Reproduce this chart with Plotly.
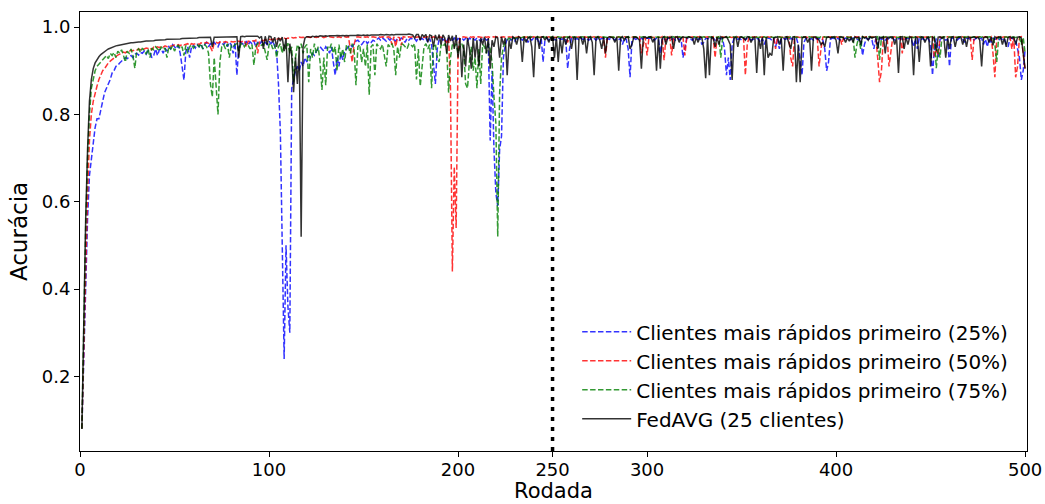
import plotly.graph_objects as go

# Accuracy per communication round (rounds 1..500)
rounds = list(range(1, 501))

fedavg_25 = [
    0.080, 0.330, 0.560, 0.720, 0.830, 0.880, 0.905, 0.918, 0.926, 0.932, 0.937, 0.941, 0.944, 0.947, 0.950, 0.952, 0.954, 0.956, 0.957, 0.958,
    0.959, 0.960, 0.961, 0.962, 0.962, 0.963, 0.964, 0.964, 0.965, 0.965, 0.966, 0.966, 0.967, 0.967, 0.968, 0.968, 0.968, 0.969, 0.969, 0.970,
    0.970, 0.970, 0.971, 0.971, 0.971, 0.972, 0.972, 0.972, 0.972, 0.973, 0.973, 0.973, 0.973, 0.974, 0.974, 0.974, 0.974, 0.975, 0.975, 0.975,
    0.975, 0.975, 0.976, 0.976, 0.976, 0.976, 0.976, 0.977, 0.977, 0.955, 0.977, 0.977, 0.977, 0.977, 0.978, 0.978, 0.977, 0.978, 0.978, 0.978,
    0.978, 0.978, 0.978, 0.930, 0.978, 0.979, 0.978, 0.979, 0.979, 0.978, 0.979, 0.979, 0.979, 0.979, 0.975, 0.979, 0.950, 0.979, 0.960, 0.979,
    0.978, 0.965, 0.977, 0.955, 0.976, 0.968, 0.977, 0.945, 0.975, 0.874, 0.962, 0.935, 0.851, 0.930, 0.870, 0.955, 0.520, 0.955, 0.975, 0.978,
    0.978, 0.977, 0.979, 0.978, 0.979, 0.978, 0.980, 0.979, 0.979, 0.980, 0.979, 0.980, 0.980, 0.979, 0.980, 0.981, 0.980, 0.980, 0.981, 0.980,
    0.981, 0.980, 0.981, 0.981, 0.980, 0.981, 0.982, 0.981, 0.981, 0.982, 0.981, 0.982, 0.981, 0.982, 0.982, 0.981, 0.982, 0.982, 0.983, 0.982,
    0.982, 0.983, 0.982, 0.982, 0.983, 0.982, 0.983, 0.983, 0.982, 0.983, 0.983, 0.982, 0.983, 0.984, 0.983, 0.982, 0.975, 0.983, 0.983, 0.970,
    0.983, 0.978, 0.983, 0.965, 0.982, 0.980, 0.955, 0.982, 0.970, 0.983, 0.960, 0.982, 0.975, 0.940, 0.982, 0.968, 0.980, 0.950, 0.982, 0.930,
    0.975, 0.885, 0.960, 0.910, 0.975, 0.950, 0.905, 0.975, 0.930, 0.970, 0.910, 0.975, 0.960, 0.978, 0.940, 0.975, 0.905, 0.970, 0.955, 0.978,
    0.975, 0.930, 0.978, 0.960, 0.975, 0.890, 0.970, 0.950, 0.978, 0.975, 0.960, 0.978, 0.975, 0.920, 0.978, 0.965, 0.975, 0.978, 0.955, 0.885,
    0.975, 0.978, 0.950, 0.977, 0.978, 0.970, 0.978, 0.965, 0.975, 0.978, 0.930, 0.977, 0.920, 0.975, 0.940, 0.978, 0.960, 0.975, 0.978, 0.950,
    0.975, 0.978, 0.879, 0.975, 0.977, 0.960, 0.978, 0.940, 0.975, 0.978, 0.965, 0.890, 0.975, 0.978, 0.970, 0.950, 0.977, 0.940, 0.975, 0.978,
    0.977, 0.975, 0.965, 0.978, 0.900, 0.975, 0.978, 0.970, 0.977, 0.978, 0.950, 0.960, 0.977, 0.978, 0.975, 0.970, 0.905, 0.977, 0.978, 0.975,
    0.977, 0.978, 0.965, 0.975, 0.900, 0.977, 0.905, 0.975, 0.978, 0.960, 0.977, 0.975, 0.978, 0.950, 0.977, 0.978, 0.965, 0.975, 0.978, 0.977,
    0.975, 0.978, 0.977, 0.975, 0.960, 0.977, 0.965, 0.978, 0.975, 0.950, 0.883, 0.975, 0.890, 0.978, 0.975, 0.955, 0.977, 0.960, 0.978, 0.975,
    0.977, 0.978, 0.970, 0.960, 0.879, 0.975, 0.978, 0.955, 0.977, 0.978, 0.975, 0.970, 0.978, 0.977, 0.965, 0.975, 0.978, 0.895, 0.975, 0.950,
    0.977, 0.890, 0.978, 0.930, 0.940, 0.935, 0.975, 0.977, 0.978, 0.960, 0.975, 0.900, 0.977, 0.978, 0.965, 0.950, 0.977, 0.978, 0.874, 0.960,
    0.874, 0.975, 0.978, 0.977, 0.965, 0.975, 0.900, 0.977, 0.978, 0.975, 0.970, 0.960, 0.965, 0.955, 0.977, 0.978, 0.975, 0.977, 0.978, 0.970,
    0.940, 0.977, 0.978, 0.975, 0.965, 0.975, 0.968, 0.977, 0.965, 0.978, 0.975, 0.977, 0.960, 0.978, 0.975, 0.977, 0.970, 0.978, 0.975, 0.977,
    0.978, 0.950, 0.977, 0.975, 0.978, 0.940, 0.977, 0.975, 0.978, 0.977, 0.960, 0.975, 0.895, 0.977, 0.978, 0.950, 0.977, 0.960, 0.978, 0.975,
    0.890, 0.977, 0.975, 0.920, 0.978, 0.977, 0.965, 0.975, 0.978, 0.910, 0.977, 0.975, 0.945, 0.977, 0.978, 0.975, 0.977, 0.930, 0.975, 0.950,
    0.977, 0.978, 0.955, 0.975, 0.977, 0.978, 0.960, 0.977, 0.955, 0.978, 0.975, 0.977, 0.978, 0.975, 0.977, 0.970, 0.910, 0.975, 0.978, 0.977,
    0.965, 0.977, 0.958, 0.978, 0.975, 0.977, 0.978, 0.960, 0.975, 0.955, 0.977, 0.978, 0.975, 0.977, 0.960, 0.977, 0.978, 0.975, 0.940, 0.905,
]

fastest_25 = [
    0.080, 0.240, 0.420, 0.560, 0.660, 0.700, 0.730, 0.770, 0.790, 0.790, 0.810, 0.830, 0.850, 0.860, 0.870, 0.880, 0.895, 0.900, 0.910, 0.912,
    0.918, 0.922, 0.925, 0.930, 0.928, 0.932, 0.935, 0.930, 0.938, 0.940, 0.936, 0.942, 0.940, 0.945, 0.938, 0.946, 0.944, 0.930, 0.935, 0.950,
    0.935, 0.948, 0.950, 0.940, 0.952, 0.945, 0.955, 0.950, 0.960, 0.955, 0.950, 0.958, 0.940, 0.910, 0.879, 0.945, 0.955, 0.930, 0.955, 0.958,
    0.952, 0.960, 0.955, 0.962, 0.950, 0.960, 0.965, 0.955, 0.962, 0.958, 0.965, 0.960, 0.955, 0.965, 0.962, 0.960, 0.966, 0.955, 0.965, 0.960,
    0.940, 0.965, 0.890, 0.955, 0.966, 0.962, 0.958, 0.968, 0.960, 0.966, 0.962, 0.968, 0.955, 0.966, 0.960, 0.968, 0.962, 0.965, 0.960, 0.968,
    0.962, 0.968, 0.955, 0.945, 0.870, 0.760, 0.500, 0.240, 0.500, 0.360, 0.300, 0.860, 0.880, 0.900, 0.910, 0.900, 0.920, 0.910, 0.930, 0.920,
    0.935, 0.930, 0.940, 0.935, 0.945, 0.950, 0.955, 0.950, 0.945, 0.955, 0.950, 0.940, 0.955, 0.920, 0.890, 0.930, 0.910, 0.940, 0.925, 0.945,
    0.950, 0.955, 0.960, 0.955, 0.962, 0.968, 0.970, 0.965, 0.960, 0.966, 0.970, 0.962, 0.968, 0.965, 0.970, 0.968, 0.972, 0.975, 0.970, 0.975,
    0.972, 0.968, 0.974, 0.970, 0.975, 0.972, 0.968, 0.974, 0.970, 0.975, 0.972, 0.965, 0.974, 0.970, 0.975, 0.972, 0.974, 0.968, 0.975, 0.972,
    0.974, 0.970, 0.975, 0.965, 0.974, 0.960, 0.920, 0.870, 0.950, 0.972, 0.975, 0.970, 0.974, 0.968, 0.975, 0.972, 0.970, 0.975, 0.968, 0.974,
    0.972, 0.975, 0.970, 0.974, 0.968, 0.975, 0.972, 0.974, 0.970, 0.975, 0.972, 0.968, 0.974, 0.975, 0.970, 0.972, 0.740, 0.900, 0.720, 0.620,
    0.590, 0.720, 0.750, 0.930, 0.960, 0.972, 0.975, 0.970, 0.974, 0.968, 0.975, 0.972, 0.974, 0.970, 0.975, 0.972, 0.965, 0.974, 0.970, 0.975,
    0.972, 0.974, 0.960, 0.975, 0.920, 0.972, 0.975, 0.970, 0.974, 0.975, 0.972, 0.970, 0.975, 0.974, 0.972, 0.975, 0.970, 0.905, 0.950, 0.974,
    0.975, 0.972, 0.974, 0.970, 0.975, 0.972, 0.974, 0.975, 0.970, 0.972, 0.975, 0.974, 0.970, 0.975, 0.972, 0.974, 0.975, 0.970, 0.974, 0.972,
    0.975, 0.974, 0.970, 0.975, 0.972, 0.974, 0.960, 0.975, 0.972, 0.950, 0.885, 0.970, 0.975, 0.972, 0.974, 0.970, 0.975, 0.972, 0.974, 0.975,
    0.974, 0.975, 0.972, 0.970, 0.975, 0.974, 0.940, 0.972, 0.975, 0.970, 0.974, 0.975, 0.972, 0.974, 0.970, 0.975, 0.972, 0.974, 0.930, 0.950,
    0.974, 0.975, 0.972, 0.970, 0.975, 0.974, 0.972, 0.975, 0.960, 0.965, 0.974, 0.975, 0.972, 0.974, 0.975, 0.970, 0.972, 0.975, 0.974, 0.972,
    0.950, 0.890, 0.930, 0.879, 0.960, 0.974, 0.975, 0.972, 0.974, 0.970, 0.975, 0.972, 0.974, 0.975, 0.970, 0.972, 0.974, 0.975, 0.972, 0.965,
    0.974, 0.960, 0.972, 0.975, 0.974, 0.970, 0.975, 0.955, 0.972, 0.950, 0.974, 0.975, 0.972, 0.974, 0.970, 0.975, 0.972, 0.974, 0.975, 0.960,
    0.930, 0.890, 0.965, 0.974, 0.975, 0.972, 0.974, 0.970, 0.975, 0.972, 0.974, 0.975, 0.970, 0.950, 0.900, 0.920, 0.972, 0.975, 0.974, 0.972,
    0.975, 0.970, 0.974, 0.972, 0.975, 0.974, 0.970, 0.972, 0.975, 0.974, 0.972, 0.970, 0.975, 0.935, 0.960, 0.974, 0.972, 0.975, 0.970, 0.950,
    0.974, 0.960, 0.975, 0.972, 0.974, 0.970, 0.975, 0.972, 0.974, 0.975, 0.970, 0.972, 0.974, 0.975, 0.972, 0.970, 0.974, 0.975, 0.972, 0.970,
    0.955, 0.974, 0.950, 0.975, 0.972, 0.974, 0.970, 0.975, 0.972, 0.960, 0.890, 0.950, 0.974, 0.930, 0.972, 0.975, 0.974, 0.970, 0.972, 0.910,
    0.974, 0.975, 0.972, 0.970, 0.974, 0.975, 0.972, 0.965, 0.974, 0.975, 0.972, 0.974, 0.970, 0.975, 0.972, 0.974, 0.975, 0.960, 0.972, 0.955,
    0.974, 0.965, 0.975, 0.972, 0.974, 0.970, 0.975, 0.972, 0.974, 0.960, 0.955, 0.974, 0.975, 0.972, 0.970, 0.950, 0.930, 0.879, 0.900, 0.950,
]

fastest_50 = [
    0.080, 0.280, 0.470, 0.620, 0.740, 0.800, 0.830, 0.850, 0.865, 0.880, 0.890, 0.900, 0.905, 0.912, 0.918, 0.922, 0.926, 0.930, 0.933, 0.936,
    0.938, 0.940, 0.943, 0.941, 0.945, 0.944, 0.947, 0.946, 0.948, 0.947, 0.950, 0.948, 0.951, 0.950, 0.952, 0.951, 0.953, 0.948, 0.954, 0.952,
    0.955, 0.953, 0.956, 0.954, 0.957, 0.955, 0.958, 0.956, 0.957, 0.959, 0.958, 0.960, 0.957, 0.961, 0.959, 0.960, 0.962, 0.958, 0.962, 0.961,
    0.962, 0.963, 0.960, 0.964, 0.962, 0.963, 0.965, 0.963, 0.955, 0.945, 0.964, 0.965, 0.963, 0.966, 0.964, 0.965, 0.967, 0.965, 0.966, 0.967,
    0.966, 0.967, 0.965, 0.968, 0.966, 0.967, 0.969, 0.955, 0.968, 0.967, 0.969, 0.968, 0.970, 0.940, 0.968, 0.970, 0.969, 0.971, 0.970, 0.972,
    0.971, 0.972, 0.973, 0.972, 0.974, 0.973, 0.974, 0.975, 0.973, 0.975, 0.974, 0.976, 0.975, 0.976, 0.975, 0.977, 0.976, 0.977, 0.976, 0.978,
    0.977, 0.976, 0.978, 0.977, 0.976, 0.978, 0.977, 0.978, 0.976, 0.978, 0.977, 0.978, 0.977, 0.976, 0.978, 0.977, 0.978, 0.976, 0.977, 0.978,
    0.977, 0.978, 0.950, 0.920, 0.960, 0.977, 0.978, 0.977, 0.976, 0.978, 0.977, 0.978, 0.976, 0.977, 0.978, 0.977, 0.976, 0.978, 0.977, 0.978,
    0.977, 0.976, 0.978, 0.977, 0.960, 0.978, 0.955, 0.977, 0.976, 0.958, 0.978, 0.977, 0.976, 0.978, 0.977, 0.978, 0.976, 0.977, 0.978, 0.977,
    0.978, 0.976, 0.977, 0.978, 0.977, 0.976, 0.978, 0.977, 0.975, 0.978, 0.977, 0.976, 0.970, 0.965, 0.975, 0.860, 0.440, 0.680, 0.540, 0.940,
    0.975, 0.977, 0.978, 0.977, 0.976, 0.978, 0.977, 0.978, 0.976, 0.977, 0.978, 0.977, 0.976, 0.978, 0.977, 0.978, 0.976, 0.977, 0.978, 0.977,
    0.978, 0.976, 0.977, 0.978, 0.977, 0.976, 0.978, 0.977, 0.978, 0.976, 0.977, 0.978, 0.977, 0.976, 0.978, 0.977, 0.978, 0.976, 0.977, 0.978,
    0.977, 0.978, 0.976, 0.977, 0.978, 0.977, 0.976, 0.978, 0.977, 0.978, 0.976, 0.977, 0.978, 0.977, 0.976, 0.978, 0.977, 0.965, 0.978, 0.977,
    0.976, 0.978, 0.977, 0.978, 0.976, 0.977, 0.978, 0.977, 0.976, 0.978, 0.977, 0.978, 0.976, 0.977, 0.978, 0.977, 0.976, 0.930, 0.977, 0.978,
    0.977, 0.976, 0.978, 0.977, 0.978, 0.976, 0.977, 0.978, 0.977, 0.976, 0.978, 0.977, 0.978, 0.976, 0.977, 0.978, 0.940, 0.960, 0.977, 0.935,
    0.977, 0.978, 0.976, 0.977, 0.978, 0.977, 0.976, 0.978, 0.924, 0.977, 0.976, 0.978, 0.935, 0.977, 0.978, 0.976, 0.977, 0.978, 0.977, 0.935,
    0.976, 0.978, 0.977, 0.978, 0.976, 0.977, 0.978, 0.977, 0.976, 0.978, 0.977, 0.978, 0.976, 0.977, 0.978, 0.930, 0.976, 0.978, 0.977, 0.978,
    0.976, 0.977, 0.978, 0.977, 0.976, 0.978, 0.977, 0.978, 0.976, 0.977, 0.978, 0.890, 0.960, 0.977, 0.976, 0.978, 0.977, 0.978, 0.976, 0.977,
    0.978, 0.977, 0.976, 0.978, 0.977, 0.978, 0.976, 0.950, 0.977, 0.978, 0.977, 0.976, 0.978, 0.977, 0.978, 0.930, 0.910, 0.977, 0.978, 0.977,
    0.976, 0.978, 0.977, 0.978, 0.976, 0.977, 0.978, 0.977, 0.976, 0.978, 0.910, 0.950, 0.977, 0.978, 0.976, 0.977, 0.978, 0.977, 0.976, 0.978,
    0.977, 0.978, 0.960, 0.977, 0.976, 0.978, 0.977, 0.978, 0.976, 0.977, 0.978, 0.977, 0.976, 0.978, 0.977, 0.978, 0.976, 0.977, 0.978, 0.977,
    0.976, 0.930, 0.874, 0.900, 0.977, 0.976, 0.978, 0.910, 0.950, 0.977, 0.978, 0.976, 0.977, 0.978, 0.940, 0.977, 0.976, 0.978, 0.977, 0.978,
    0.976, 0.977, 0.978, 0.977, 0.976, 0.978, 0.977, 0.978, 0.976, 0.977, 0.978, 0.930, 0.950, 0.935, 0.977, 0.976, 0.978, 0.977, 0.978, 0.976,
    0.977, 0.978, 0.977, 0.976, 0.978, 0.977, 0.978, 0.976, 0.977, 0.978, 0.977, 0.925, 0.976, 0.978, 0.977, 0.978, 0.976, 0.977, 0.978, 0.977,
    0.976, 0.978, 0.940, 0.885, 0.977, 0.978, 0.976, 0.977, 0.978, 0.977, 0.976, 0.978, 0.950, 0.977, 0.885, 0.910, 0.977, 0.978, 0.930, 0.900,
]

fastest_75 = [
    0.080, 0.320, 0.540, 0.700, 0.800, 0.860, 0.885, 0.900, 0.910, 0.915, 0.920, 0.925, 0.930, 0.935, 0.928, 0.940, 0.935, 0.942, 0.930, 0.945,
    0.940, 0.948, 0.935, 0.920, 0.945, 0.940, 0.950, 0.935, 0.906, 0.945, 0.950, 0.942, 0.952, 0.945, 0.938, 0.950, 0.930, 0.952, 0.948, 0.955,
    0.950, 0.945, 0.955, 0.948, 0.952, 0.930, 0.955, 0.950, 0.957, 0.945, 0.955, 0.958, 0.950, 0.955, 0.935, 0.958, 0.940, 0.955, 0.960, 0.952,
    0.958, 0.960, 0.955, 0.962, 0.950, 0.960, 0.955, 0.940, 0.870, 0.840, 0.930, 0.860, 0.800, 0.920, 0.955, 0.960, 0.950, 0.962, 0.930, 0.958,
    0.955, 0.960, 0.962, 0.945, 0.960, 0.963, 0.955, 0.962, 0.958, 0.950, 0.960, 0.913, 0.955, 0.963, 0.960, 0.958, 0.962, 0.945, 0.925, 0.960,
    0.963, 0.950, 0.960, 0.930, 0.955, 0.962, 0.940, 0.960, 0.950, 0.963, 0.940, 0.955, 0.874, 0.930, 0.960, 0.950, 0.962, 0.940, 0.955, 0.960,
    0.874, 0.950, 0.930, 0.962, 0.940, 0.955, 0.920, 0.856, 0.930, 0.867, 0.955, 0.950, 0.962, 0.940, 0.955, 0.900, 0.960, 0.930, 0.950, 0.920,
    0.960, 0.955, 0.940, 0.962, 0.950, 0.867, 0.955, 0.960, 0.920, 0.950, 0.910, 0.960, 0.845, 0.955, 0.960, 0.890, 0.962, 0.955, 0.950, 0.960,
    0.930, 0.910, 0.960, 0.955, 0.962, 0.950, 0.890, 0.955, 0.930, 0.962, 0.960, 0.955, 0.950, 0.962, 0.960, 0.955, 0.962, 0.880, 0.950, 0.865,
    0.910, 0.955, 0.962, 0.950, 0.960, 0.860, 0.955, 0.962, 0.930, 0.920, 0.960, 0.955, 0.962, 0.950, 0.850, 0.930, 0.960, 0.955, 0.962, 0.940,
    0.955, 0.962, 0.950, 0.870, 0.860, 0.920, 0.955, 0.900, 0.930, 0.860, 0.950, 0.870, 0.960, 0.955, 0.940, 0.962, 0.950, 0.920, 0.840, 0.780,
    0.520, 0.850, 0.930, 0.955, 0.965, 0.970, 0.975, 0.972, 0.976, 0.974, 0.975, 0.977, 0.975, 0.976, 0.978, 0.975, 0.977, 0.976, 0.978, 0.977,
    0.976, 0.978, 0.977, 0.975, 0.978, 0.977, 0.976, 0.978, 0.977, 0.978, 0.976, 0.977, 0.978, 0.977, 0.976, 0.978, 0.977, 0.978, 0.976, 0.977,
    0.978, 0.977, 0.976, 0.978, 0.977, 0.978, 0.976, 0.977, 0.978, 0.977, 0.976, 0.978, 0.977, 0.978, 0.976, 0.977, 0.978, 0.977, 0.976, 0.978,
    0.977, 0.978, 0.976, 0.977, 0.978, 0.977, 0.976, 0.978, 0.977, 0.978, 0.976, 0.977, 0.978, 0.977, 0.976, 0.978, 0.977, 0.978, 0.976, 0.977,
    0.978, 0.977, 0.976, 0.978, 0.977, 0.978, 0.976, 0.977, 0.978, 0.977, 0.976, 0.978, 0.977, 0.978, 0.976, 0.977, 0.978, 0.977, 0.976, 0.978,
    0.977, 0.978, 0.976, 0.977, 0.978, 0.977, 0.976, 0.978, 0.977, 0.978, 0.976, 0.977, 0.978, 0.977, 0.976, 0.978, 0.977, 0.978, 0.930, 0.977,
    0.978, 0.977, 0.976, 0.978, 0.977, 0.978, 0.976, 0.977, 0.978, 0.977, 0.976, 0.978, 0.977, 0.978, 0.976, 0.977, 0.978, 0.977, 0.976, 0.978,
    0.977, 0.978, 0.976, 0.977, 0.978, 0.977, 0.976, 0.978, 0.977, 0.978, 0.976, 0.977, 0.978, 0.977, 0.976, 0.978, 0.977, 0.978, 0.976, 0.977,
    0.978, 0.977, 0.976, 0.978, 0.977, 0.978, 0.976, 0.977, 0.978, 0.977, 0.976, 0.978, 0.977, 0.978, 0.976, 0.977, 0.978, 0.977, 0.976, 0.978,
    0.977, 0.978, 0.976, 0.977, 0.978, 0.977, 0.976, 0.978, 0.977, 0.930, 0.960, 0.977, 0.950, 0.978, 0.976, 0.977, 0.978, 0.977, 0.976, 0.978,
    0.977, 0.978, 0.925, 0.977, 0.976, 0.978, 0.977, 0.978, 0.976, 0.977, 0.978, 0.977, 0.976, 0.978, 0.977, 0.978, 0.976, 0.977, 0.978, 0.977,
    0.976, 0.978, 0.977, 0.978, 0.976, 0.977, 0.978, 0.977, 0.976, 0.978, 0.977, 0.978, 0.906, 0.950, 0.930, 0.977, 0.978, 0.977, 0.976, 0.978,
    0.977, 0.978, 0.976, 0.977, 0.978, 0.977, 0.976, 0.978, 0.977, 0.978, 0.976, 0.977, 0.978, 0.977, 0.976, 0.978, 0.977, 0.978, 0.976, 0.977,
    0.978, 0.977, 0.976, 0.960, 0.920, 0.977, 0.976, 0.978, 0.977, 0.978, 0.976, 0.977, 0.978, 0.977, 0.976, 0.978, 0.977, 0.960, 0.976, 0.940,
]

series_names = [
    "Clientes mais rápidos primeiro (25%)",
    "Clientes mais rápidos primeiro (50%)",
    "Clientes mais rápidos primeiro (75%)",
    "FedAVG (25 clientes)",
]
series_values = [fastest_25, fastest_50, fastest_75, fedavg_25]
series_colors = ["rgba(0,0,255,0.8)", "rgba(255,0,0,0.8)", "rgba(0,128,0,0.8)", "rgba(0,0,0,0.8)"]
series_dash = ["5.5px,2.4px", "5.5px,2.4px", "5.5px,2.4px", "solid"]

x_ticks = [0, 100, 200, 250, 300, 400, 500]
y_ticks = [0.2, 0.4, 0.6, 0.8, 1.0]
split_round = 250

fig = go.Figure()
for i, (name, vals, col, dash) in enumerate(zip(series_names, series_values, series_colors, series_dash)):
    fig.add_trace(go.Scatter(
        x=rounds[:len(vals)], y=vals, mode="lines", name=name,
        line=dict(color=col, width=1.5, dash=dash),
        legendgroup=f"g{i}",
    ))

# vertical dotted marker at the split round
fig.add_shape(type="line", xref="x", yref="paper", x0=split_round, x1=split_round, y0=0, y1=1,
              line=dict(color="black", width=3.5, dash="4px,6px"), layer="above")

axis_common = dict(
    showline=True, linecolor="black", linewidth=1, mirror=True,
    ticks="outside", ticklen=5, tickwidth=1, tickcolor="black",
    showgrid=False, zeroline=False, automargin=False,
    tickfont=dict(family="DejaVu Sans", size=18, color="black"),
)

fig.update_xaxes(range=[0, 501], tickmode="array", tickvals=x_ticks,
                 ticktext=[str(t) for t in x_ticks], ticklabelstandoff=-3, **axis_common)
fig.update_yaxes(range=[0.029, 1.0346], tickmode="array", tickvals=y_ticks,
                 ticktext=[f"{t:.1f}" for t in y_ticks],
                 title=dict(text="Acurácia", font=dict(family="DejaVu Sans", size=23, color="black"), standoff=7),
                 **axis_common)

# x-axis title, set just below the tick labels at the bottom edge
fig.add_annotation(text="Rodada", xref="paper", yref="paper", x=0.5, y=0, xanchor="center",
                   yanchor="bottom", yshift=-53, showarrow=False, borderpad=0,
                   font=dict(family="DejaVu Sans", size=21, color="black"))

fig.update_layout(
    width=1045, height=504,
    margin=dict(l=80, r=18, t=12, b=53),
    plot_bgcolor="white", paper_bgcolor="white",
    font=dict(family="DejaVu Sans", color="black"),
    legend=dict(
        x=0.525, y=0.316, xanchor="left", yanchor="top",
        bgcolor="rgba(255,255,255,0)", borderwidth=0,
        font=dict(family="DejaVu Sans", size=20, color="black"),
        traceorder="grouped", tracegroupgap=0, itemwidth=49,
    ),
)

fig.write_html("out.html")
